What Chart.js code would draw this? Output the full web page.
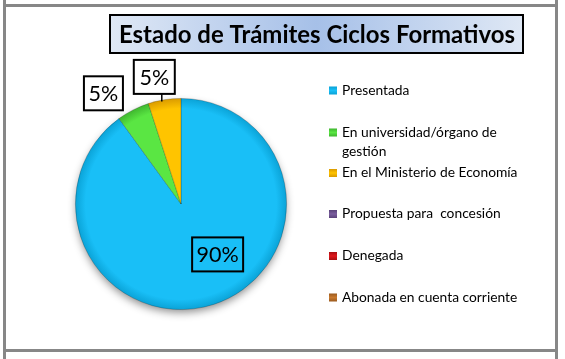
<!DOCTYPE html>
<html><head><meta charset="utf-8">
<script src="https://cdn.jsdelivr.net/npm/chart.js@4"></script>
<style>html,body{margin:0;padding:0;background:#fff}#c{display:block}</style>
</head><body>
<canvas id="c" width="565" height="359"></canvas>
<script>
const titleText = "Estado de Trámites Ciclos Formativos";
const categories = ["Presentada", "En universidad/órgano de gestión", "En el Ministerio de Economía", "Propuesta para concesión", "Denegada", "Abonada en cuenta corriente"];
const legendLines = [["Presentada"], ["En universidad/órgano de", "gestión"], ["En el Ministerio de Economía"], ["Propuesta para  concesión"], ["Denegada"], ["Abonada en cuenta corriente"]];
const values = [18, 1, 1, 0, 0, 0];
const percentLabels = ["90%", "5%", "5%", "", "", ""];
const colors = ["#19bff7", "#5ae643", "#ffc400", "#7a5d9e", "#e0181c", "#c8792e"];
const edgeColors = ["#0aa2d6", "#3eb52e", "#d99a00", "#5a437a", "#a80f12", "#9a5a1e"];

const FONT = "Lato, 'Open Sans', sans-serif";

const framePlugin = {
  id: 'frame',
  beforeDraw(chart) {
    const ctx = chart.ctx;
    ctx.save();
    ctx.fillStyle = '#fff';
    ctx.fillRect(0, 0, chart.width, chart.height);
    ctx.strokeStyle = '#878787';
    ctx.lineWidth = 3;
    ctx.beginPath();
    ctx.moveTo(4.5, 0); ctx.lineTo(4.5, 359);
    ctx.moveTo(556.5, 0); ctx.lineTo(556.5, 359);
    ctx.moveTo(3, 5.5); ctx.lineTo(558, 5.5);
    ctx.moveTo(3, 350.5); ctx.lineTo(558, 350.5);
    ctx.stroke();
    // title box
    const x0 = 110, y0 = 15, x1 = 523, y1 = 53;
    const g = ctx.createLinearGradient(x0, 0, x1, 0);
    g.addColorStop(0, '#dfe8f5');
    g.addColorStop(0.5, '#a6c0e8');
    g.addColorStop(1, '#dfe8f5');
    ctx.fillStyle = g;
    ctx.fillRect(x0, y0, x1 - x0, y1 - y0);
    ctx.strokeStyle = '#000';
    ctx.lineWidth = 2;
    ctx.strokeRect(x0, y0, x1 - x0, y1 - y0);
    let size = 22;
    ctx.font = 'bold ' + size + 'px ' + FONT;
    const w = ctx.measureText(titleText).width;
    size = size * 396 / w;
    ctx.font = 'bold ' + size.toFixed(2) + 'px ' + FONT;
    ctx.fillStyle = '#000';
    ctx.textBaseline = 'middle';
    ctx.textAlign = 'center';
    ctx.fillText(titleText, (x0 + x1) / 2 + 0.5, (y0 + y1) / 2 + 1);
    ctx.restore();
  },
  beforeDatasetsDraw(chart) {
    const ctx = chart.ctx;
    const arc = chart.getDatasetMeta(0).data[0];
    ctx.save();
    ctx.shadowColor = 'rgba(0,0,0,0.45)';
    ctx.shadowBlur = 8;
    ctx.shadowOffsetY = 4;
    ctx.fillStyle = '#fff';
    ctx.beginPath();
    ctx.arc(arc.x, arc.y, arc.outerRadius - 1, 0, Math.PI * 2);
    ctx.fill();
    ctx.restore();
  },
  afterDraw(chart) {
    const ctx = chart.ctx;
    ctx.save();
    // legend
    ctx.textBaseline = 'middle';
    ctx.textAlign = 'left';
    ctx.font = '13.8px ' + FONT;
    const rowY = [90.5, 132.5, 173, 214, 256, 297.5];
    legendLines.forEach((lines, i) => {
      const y = rowY[i];
      const g = ctx.createLinearGradient(329, y - 4, 329, y + 4);
      g.addColorStop(0, edgeColors[i]);
      g.addColorStop(0.5, colors[i]);
      g.addColorStop(1, edgeColors[i]);
      ctx.fillStyle = g;
      ctx.fillRect(329, y - 4, 8, 8);
      ctx.fillStyle = '#000';
      lines.forEach((t, k) => ctx.fillText(t, 342, y + k * 19));
    });
    // data labels
    const meta = chart.getDatasetMeta(0);
    const place = [{a: 144, r: 0.59, w: 51}, {a: null, r: 1.28, w: 39}, {a: null, r: 1.23, w: 41}];
    ctx.font = '21.5px ' + FONT;
    ctx.textAlign = 'center';
    meta.data.forEach((el, i) => {
      if (!percentLabels[i] || !place[i]) return;
      const p = place[i];
      let ang;
      if (p.a !== null) ang = (p.a - 90) * Math.PI / 180;
      else ang = (el.startAngle + el.endAngle) / 2 - (i === 1 ? 0.14 : 0.05);
      const cx = el.x + Math.cos(ang) * el.outerRadius * p.r;
      const cy = el.y + Math.sin(ang) * el.outerRadius * p.r;
      const bw = p.w, bh = 34;
      if (i === 2) {
        ctx.strokeStyle = '#000'; ctx.lineWidth = 1.5;
        ctx.beginPath();
        ctx.moveTo(cx + 7.5, cy + bh / 2);
        ctx.lineTo(cx + 7.5, el.y - el.outerRadius + 3);
        ctx.stroke();
      }
      ctx.fillStyle = i === 0 ? 'rgba(0,0,0,0)' : '#fff';
      ctx.fillRect(cx - bw / 2, cy - bh / 2, bw, bh);
      ctx.strokeStyle = '#000'; ctx.lineWidth = 2;
      ctx.strokeRect(cx - bw / 2, cy - bh / 2, bw, bh);
      ctx.fillStyle = '#000';
      ctx.fillText(percentLabels[i], cx, cy + 1);
    });
    ctx.restore();
  }
};

function sliceFill(ctx) {
  const chart = ctx.chart;
  const i = ctx.dataIndex;
  const a = chart.chartArea;
  if (!a) return colors[i];
  const cx = (a.left + a.right) / 2, cy = (a.top + a.bottom) / 2;
  const r = Math.min(a.right - a.left, a.bottom - a.top) / 2;
  const g = chart.ctx.createRadialGradient(cx, cy, 0, cx, cy, r);
  g.addColorStop(0, colors[i]);
  g.addColorStop(0.9, colors[i]);
  g.addColorStop(1, edgeColors[i]);
  return g;
}

new Chart(document.getElementById('c'), {
  type: 'pie',
  data: {
    labels: categories,
    datasets: [{
      data: values,
      backgroundColor: sliceFill,
      borderColor: 'rgba(0,0,0,0.25)',
      borderWidth: 0.8
    }]
  },
  options: {
    responsive: false,
    animation: false,
    events: [],
    layout: { padding: { left: 75, right: 278, top: 98, bottom: 49 } },
    plugins: { legend: { display: false }, tooltip: { enabled: false }, title: { display: false } }
  },
  plugins: [framePlugin]
});
</script>
</body></html>
